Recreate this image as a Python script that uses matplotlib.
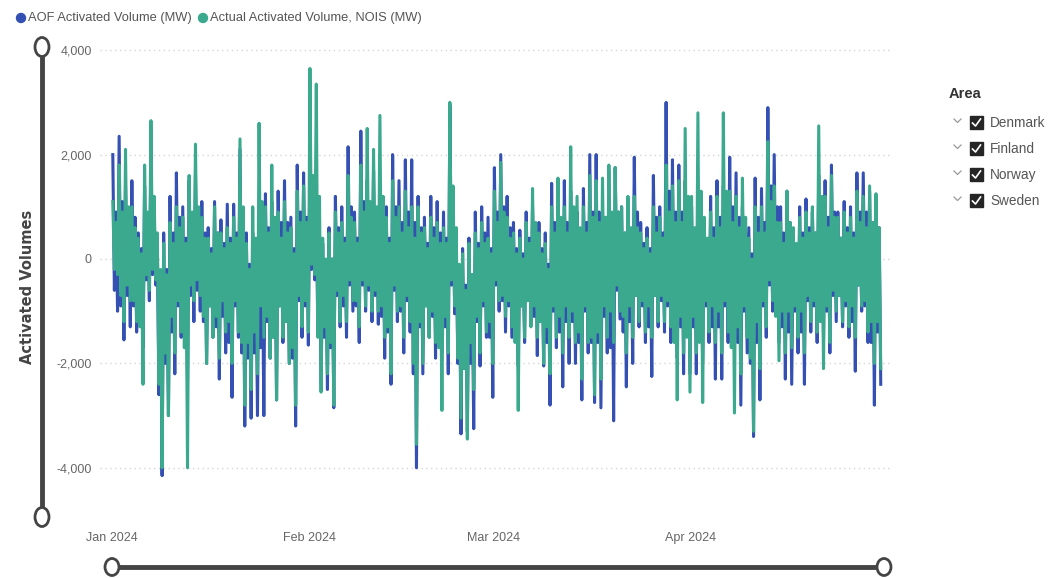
import numpy as np
import pandas as pd
import matplotlib
matplotlib.use("Agg")
import matplotlib.pyplot as plt
from matplotlib.patches import Ellipse, Rectangle, Circle

# hourly activated volumes summarised per day (MW), 1 Jan - 30 Apr 2024:
# the day's main swing (high / low) and a second, smaller swing (high2 / low2)
aof_high = [2000, 2350, 1400, 1500, 500, 1400, 2000, 300, 500, 1200,
            1650, 1000, 1500, 1600, 1100, 600, 1100, 750, 1050, 1050,
            2100, 500, 500, 1000, 1250, 1100, 1300, 1500, 800, 1800,
            1650, 2000, 600, 300, 600, 1200, 1000, 2150, 900, 2450,
            1500, 1700, 1200, 1000, 2000, 1500, 1900, 1900, 1200, 800,
            1200, 1100, 900, 2950, 300, 200, 400, 900, 1000, 800,
            1750, 2000, 1200, 700, 550, 900, 1000, 700, 500, 1450,
            1450, 1500, 1300, 900, 1350, 2000, 2000, 900, 1700, 1750,
            1000, 800, 1950, 700, 600, 1600, 1000, 3000, 1900, 1800,
            1500, 1000, 1100, 600, 1200, 1500, 1400, 1950, 1650, 1000,
            600, 1550, 1350, 2900, 2000, 1000, 1300, 500, 1000, 1150,
            900, 1600, 1500, 1800, 900, 1100, 1000, 1650, 1650, 1300,
            1200]
aof_low = [-1000, -1550, -1300, -1400, -1700, -800, -500, -4150, -3000, -2200,
           -1500, -2350, -1200, -1000, -2000, -1500, -2300, -1800, -2650, -1500,
           -3200, -3050, -3000, -3000, -1900, -2700, -1600, -2000, -3200, -1500,
           -1650, -400, -2400, -2500, -2850, -1300, -1500, -1000, -1600, -1000,
           -1200, -1250, -1900, -2400, -1200, -1800, -1400, -4000, -2200, -1500,
           -1900, -1800, -2200, -1050, -3350, -3300, -3250, -2050, -1500, -2650,
           -1000, -1400, -1500, -2050, -1600, -1200, -1850, -2050, -2800, -1700,
           -2450, -2000, -2000, -2700, -1800, -2750, -2850, -1800, -3100, -1150,
           -2450, -2000, -1300, -1600, -2250, -1300, -1400, -1600, -1900, -2200,
           -2200, -2200, -2000, -1600, -2300, -2300, -1600, -1500, -2800, -1800,
           -3400, -2700, -1500, -1000, -1600, -2300, -2400, -1800, -2400, -1400,
           -1600, -1500, -1800, -1200, -1300, -1500, -2150, -1000, -1600, -2800,
           -2400]
aof_high2 = [900, 1100, 700, 800, 200, 600, 900, -300, -200, 500,
             800, 400, 800, 700, 500, 200, 500, 300, 400, 500,
             900, -100, 0, 400, 600, 500, 700, 700, 200, 900,
             800, 1000, 100, -100, 0, 600, 400, 1000, 400, 1100,
             800, 900, 600, 400, 1000, 700, 900, 700, 600, 300,
             600, 500, 400, 1300, -300, -500, -300, 300, 500, 200,
             900, 1000, 600, 200, 100, 400, 500, 200, -100, 700,
             700, 700, 600, 300, 700, 900, 900, 400, 800, 900,
             500, 400, 900, 300, 200, 800, 500, 1300, 900, 900,
             800, 500, 600, 200, 600, 800, 700, 1000, 800, 500,
             100, 800, 700, 1400, 1000, 500, 700, 200, 500, 600,
             500, 800, 800, 900, 400, 600, 500, 900, 900, 700,
             600]
aof_low2 = [-600, -900, -700, -900, -1200, -400, -300, -2600, -2000, -1400,
            -900, -1500, -700, -600, -1200, -900, -1300, -1100, -1600, -900,
            -1800, -1900, -1800, -1700, -1200, -1500, -900, -1200, -1900, -800,
            -900, -200, -1400, -1500, -1700, -700, -900, -500, -900, -500,
            -600, -700, -1100, -1400, -600, -1000, -800, -2200, -1300, -900,
            -1100, -1000, -1300, -500, -2000, -2100, -2000, -1200, -900, -1500,
            -500, -800, -900, -1200, -900, -700, -1100, -1200, -1600, -1000,
            -1400, -1200, -1200, -1600, -1000, -1600, -1600, -1100, -1700, -600,
            -1400, -1200, -700, -900, -1300, -700, -800, -900, -1100, -1300,
            -1300, -1300, -1200, -900, -1300, -1300, -900, -900, -1600, -1000,
            -2000, -1600, -900, -500, -900, -1300, -1400, -1000, -1400, -800,
            -900, -900, -1000, -700, -700, -900, -1200, -500, -900, -1600,
            -1400]
nois_high = [1100, 1800, 2100, 1000, 400, 1800, 2650, 500, 300, 700,
             1000, 800, 1600, 2200, 800, 400, 1000, 500, 600, 800,
             2300, 300, 1000, 2600, 1000, 1800, 900, 1100, 600, 1300,
             1400, 3650, 3350, 400, 500, 900, 700, 1600, 700, 1800,
             2500, 2100, 2750, 800, 1500, 1000, 1300, 1000, 1000, 600,
             800, 700, 600, 3000, 600, 100, 300, 500, 700, 400,
             1300, 1850, 800, 500, 400, 700, 1350, 500, 300, 1000,
             1550, 1000, 2150, 1200, 1000, 1600, 1500, 1550, 1800, 1750,
             1000, 1200, 1200, 500, 400, 1000, 800, 1800, 1400, 1500,
             2500, 1200, 2800, 800, 900, 1200, 2800, 1300, 1200, 1550,
             400, 1000, 1000, 2250, 1400, 700, 1300, 600, 800, 900,
             1000, 2550, 1200, 1600, 800, 900, 800, 1300, 1200, 1400,
             1250]
nois_low = [-300, -1200, -800, -1200, -2400, -600, -400, -4000, -3000, -1800,
            -1400, -4000, -800, -700, -2000, -1500, -1900, -1400, -2000, -1400,
            -2800, -2500, -2200, -1500, -1900, -2700, -1500, -2000, -2800, -1300,
            -1400, -300, -2550, -2200, -2800, -1200, -1200, -800, -1300, -900,
            -1000, -1000, -1500, -2200, -1000, -1500, -1200, -3550, -2000, -1500,
            -1600, -2900, -1800, -900, -3050, -3450, -2500, -1800, -1400, -2000,
            -800, -1100, -1300, -2900, -1500, -1300, -1500, -2000, -2200, -1500,
            -1800, -1500, -1600, -2300, -1600, -2600, -2300, -1500, -1600, -1000,
            -1800, -1500, -1200, -1400, -1500, -1200, -1200, -1300, -2700, -1800,
            -2550, -1800, -2750, -1400, -1600, -1800, -1400, -2950, -2200, -1500,
            -3300, -2100, -1300, -800, -1950, -1800, -1700, -1500, -1800, -1200,
            -1400, -2100, -1600, -1000, -1200, -1300, -1500, -900, -1400, -2000,
            -2100]
nois_high2 = [700, 900, 1000, 600, 100, 900, 1200, -200, -300, 300,
              600, 300, 900, 1000, 400, 100, 500, 200, 300, 400,
              1000, -200, 400, 1100, 500, 800, 400, 500, 100, 700,
              700, 1600, 1200, 0, 0, 500, 300, 800, 300, 900,
              1100, 1000, 1200, 300, 800, 500, 600, 400, 500, 200,
              400, 300, 300, 1400, -100, -600, -300, 200, 300, 100,
              700, 900, 400, 100, 0, 300, 700, 100, -200, 500,
              800, 500, 1000, 600, 500, 800, 700, 800, 900, 900,
              500, 600, 600, 200, 100, 500, 400, 900, 700, 700,
              1200, 600, 1300, 400, 400, 600, 1300, 700, 600, 800,
              0, 500, 500, 1100, 700, 300, 700, 300, 400, 500,
              500, 1200, 600, 800, 400, 500, 400, 700, 600, 700,
              600]
nois_low2 = [-200, -700, -500, -800, -1300, -300, -200, -2400, -1800, -1100,
             -800, -1700, -500, -400, -1100, -900, -1100, -800, -1200, -800,
             -1600, -1600, -1400, -900, -1100, -1500, -900, -1200, -1700, -700,
             -800, -100, -1500, -1300, -1600, -600, -700, -400, -800, -400,
             -500, -600, -900, -1300, -500, -900, -700, -2000, -1200, -900,
             -1000, -1700, -1100, -400, -1900, -2100, -1600, -1100, -800, -1200,
             -400, -700, -800, -1600, -900, -800, -900, -1200, -1300, -900,
             -1100, -900, -1000, -1400, -900, -1500, -1400, -900, -1000, -500,
             -1100, -900, -700, -800, -900, -700, -700, -800, -1600, -1100,
             -1500, -1100, -1600, -800, -900, -1000, -800, -1700, -1300, -900,
             -1900, -1200, -800, -400, -1100, -1000, -1000, -900, -1000, -700,
             -800, -1200, -900, -600, -700, -800, -900, -500, -800, -1200,
             -1200]

series_names = ['AOF Activated Volume (MW)', 'Actual Activated Volume, NOIS (MW)']
month_ticks = ['2024-01-01', '2024-02-01', '2024-03-01', '2024-04-01']
month_labels = ['Jan 2024', 'Feb 2024', 'Mar 2024', 'Apr 2024']
y_ticks = [-4000, -2000, 0, 2000, 4000]
areas = ['Denmark', 'Finland', 'Norway', 'Sweden']

BLUE = '#3350b2'
GREEN = '#3aa98e'
TXT = ['Liberation Sans', 'DejaVu Sans']


def day_swings(high, low, high2, low2):
    # four readings per day: high, second low, second high, low
    days = pd.date_range('2024-01-01', periods=len(high), freq='D')
    times = []
    vals = []
    for d, h, l2, h2, l in zip(days, high, low2, high2, low):
        for hour, v in zip((3, 9, 15, 21), (h, l2, h2, l)):
            times.append(d + pd.Timedelta(hours=hour))
            vals.append(v)
    return pd.Series(vals, index=times)


fig = plt.figure(figsize=(10.48, 5.78), dpi=100)

# overlay in pixel coordinates for the slicer decorations
deco = fig.add_axes([0, 0, 1, 1])
deco.set_xlim(0, 1048)
deco.set_ylim(578, 0)
deco.axis('off')

ax = fig.add_axes([100 / 1048, (578 - 490) / 578, 790 / 1048, 450 / 578])
ax.set_zorder(2)
ax.patch.set_alpha(0)

aof = day_swings(aof_high, aof_low, aof_high2, aof_low2)
nois = day_swings(nois_high, nois_low, nois_high2, nois_low2)
ax.plot(aof.index, aof.values, color=BLUE, lw=2.2)
ax.plot(nois.index, nois.values, color=GREEN, lw=2.2)

start = pd.Timestamp('2024-01-01')
ax.set_xlim(start - pd.Timedelta(days=1.887), start + pd.Timedelta(days=122.33))
ax.set_ylim(-4425, 4195)

ax.set_yticks(y_ticks)
ax.set_yticklabels([f'{v:,}' for v in y_ticks])
ax.set_xticks(pd.to_datetime(month_ticks))
ax.set_xticklabels(month_labels)
for lab in ax.get_xticklabels() + ax.get_yticklabels():
    lab.set_family(TXT)
    lab.set_fontsize(9)
    lab.set_color('#666666')
ax.tick_params(axis='y', length=0, pad=6)
ax.tick_params(axis='x', length=0, pad=30)
ax.grid(axis='y', color='#d5d5d5', linestyle=(0, (1, 2.5)), lw=1)
ax.set_axisbelow(True)
for s in ax.spines.values():
    s.set_visible(False)

# y axis title
deco.text(28, 287, 'Activated Volumes', rotation=90, ha='center', va='center',
          fontsize=10.5, color='#444444', family=['DejaVu Sans'],
          fontweight='bold')

# vertical range slicer
deco.plot([42, 42], [47, 517], color='#444444', lw=3.5, solid_capstyle='butt')
for yy in (47, 517):
    deco.add_patch(Ellipse((42, yy), 14, 19, facecolor='white',
                           edgecolor='#444444', lw=2, zorder=3))

# horizontal range slicer
deco.plot([112, 884], [567, 567], color='#444444', lw=3.5, solid_capstyle='butt')
for xx in (112, 884):
    deco.add_patch(Ellipse((xx, 567), 14, 17, facecolor='white',
                           edgecolor='#444444', lw=2, zorder=3))

# series legend at the top
deco.add_patch(Circle((21, 18), 4.5, color=BLUE))
deco.text(28, 18, series_names[0], ha='left', va='center', fontsize=9.3,
          color='#555555', family=TXT)
deco.add_patch(Circle((203, 18), 4.5, color=GREEN))
deco.text(210, 18, series_names[1], ha='left', va='center', fontsize=9.3,
          color='#555555', family=TXT)

# area slicer on the right
deco.text(949, 94, 'Area', ha='left', va='center', fontsize=10.5,
          color='#333333', family=TXT, fontweight='bold')
for i, name in enumerate(areas):
    yy = 123 + i * 26
    deco.plot([954, 957.5, 961], [119 + i * 26, 122.5 + i * 26, 119 + i * 26],
              color='#999999', lw=0.9)
    deco.add_patch(Rectangle((970, yy - 7), 13, 13, facecolor='#252525',
                             edgecolor='#252525'))
    deco.plot([972.5, 975.5, 980.5], [yy, yy + 3, yy - 4], color='white', lw=1.2)
    deco.text(990, yy, name, ha='left', va='center', fontsize=9.8,
              color='#555555', family=TXT)

fig.savefig('out.png', dpi=100)
